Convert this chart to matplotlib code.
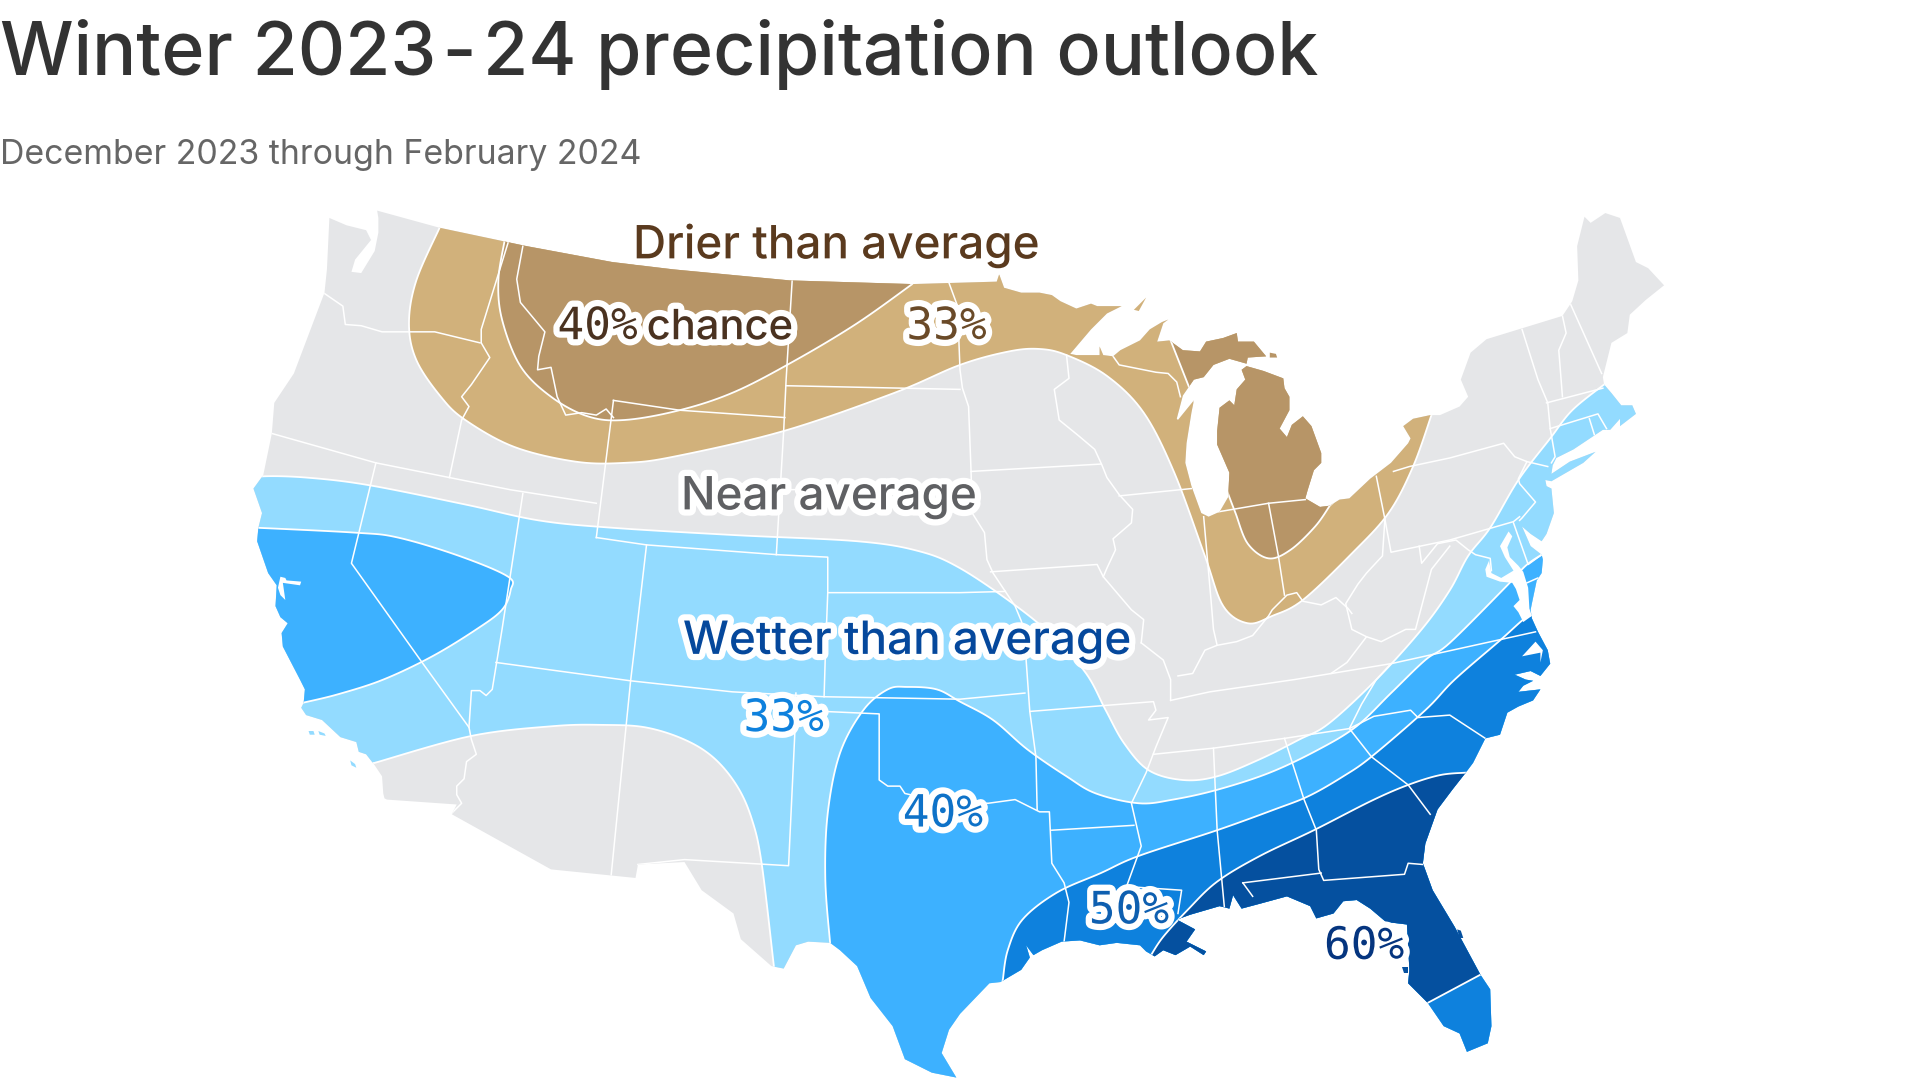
import matplotlib
matplotlib.use('Agg')
import matplotlib.pyplot as plt
import matplotlib.patheffects as pe
from matplotlib.patches import Polygon
import numpy as np

# Map grid: 1568 x 882 units
land = [(269,178),(283,184),(299,188),(303,196),(290,212),(287,222),(295,223),(306,205),(309,190),(309,178),(308,172),
    (359,186),(430,201),(500,214),(550,220),(645,229),(745,232),(814,230),(816,224),(820,235),(834,239),(849,239),(859,241),
    (866,246),(879,252),(891,248),(896,250),(916,250),(904,256),(891,269),(874,289),(879,290),(898,290),(898,283),(901,290),
    (909,291),(915,286),(931,278),(939,269),(949,263),(954,261),(950,264),(945,279),(955,278),(966,286),(980,287),(985,279),(999,276),
    (1010,272),(1011,279),(1024,279),(1034,291),(1019,292),(1018,297),(1004,293),(991,298),(983,308),(975,310),(966,323),(961,342),
    (962,343),(975,327),(973,337),(969,362),(968,378),(973,397),(981,419),(987,422),(996,418),(1003,406),(1004,386),(994,363),(994,352),
    (996,333),(1004,327),(1008,331),(1010,318),(1017,310),(1014,302),(1018,299),(1032,303),(1048,309),(1049,317),(1053,324),(1053,335),
    (1045,350),(1051,357),(1055,347),(1064,340),(1071,348),(1079,370),(1079,378),(1073,384),(1068,400),(1066,407),(1078,414),(1086,413),
    (1094,408),(1102,407),(1119,391),(1136,378),(1150,362),(1152,358),(1146,348),(1154,342),(1168,339),(1176,339),(1192,332),
    (1199,324),(1193,310),(1201,288),(1214,277),(1276,258),(1284,246),(1289,229),(1288,201),(1294,177),(1299,182),(1311,174),
    (1323,178),(1336,214),(1346,219),(1359,233),(1344,245),(1331,257),(1329,272),(1316,280),(1309,308),(1310,314),(1316,321),
    (1324,331),(1333,331),(1336,338),(1323,348),(1323,342),(1315,351),(1309,351),(1303,355),(1285,367),(1271,374),(1268,380),(1267,387),
    (1282,377),(1303,369),(1293,378),(1267,393),(1262,392),(1263,397),(1267,399),(1269,419),(1263,436),(1259,442),(1250,436),(1243,430),
    (1250,446),(1259,453),(1260,457),(1259,468),(1255,474),(1251,493),(1250,498),(1251,505),(1256,516),(1264,531),(1266,542),(1258,552),
    (1250,548),(1237,551),(1246,555),(1252,556),(1244,560),(1240,565),(1258,563),(1252,572),(1240,577),(1231,582),(1225,600),(1213,603),(1203,623),
    (1197,631),(1186,645),(1174,661),(1164,689),(1162,705),(1170,727),(1188,757),(1209,796),(1217,808),(1218,838),(1215,852),(1198,859),
    (1192,844),(1179,838),(1166,819),(1150,803),(1151,792),(1149,755),(1141,754),(1132,753),(1119,742),(1108,735),(1097,736),(1089,746),
    (1075,750),(1070,740),(1051,732),(1029,738),(1014,742),(1007,731),(1004,742),(996,740),(972,747),(961,751),(976,759),(969,769),(985,777),
    (983,780),(972,773),(960,780),(950,776),(943,781),(936,777),(931,772),(912,770),(898,772),(882,768),(867,769),(851,776),(844,780),
    (838,772),(841,782),(834,792),(817,802),(808,803),(784,828),(775,841),(769,860),(781,880),
    (761,876),(739,865),(729,838),(711,815),(700,789),(686,776),(678,770),(660,769),(650,772),(640,791),(630,789),(605,767),
    (599,746),(573,727),(559,704),(521,706),(519,717),(450,710),(369,665),(373,657),(316,653),(314,652),(313,648),(312,634),(306,625),(299,616),
    (293,614),(291,606),(278,602),(263,588),(250,584),(246,578),(248,574),(249,563),(245,555),(231,528),(230,517),(235,509),(229,504),
    (225,495),(226,478),(219,468),(210,442),(211,431),(214,419),(207,399),
    (215,388),(222,354),(224,329),(240,305),(265,239),(267,220)]

# Cut-outs inside the land outline
chesapeake = [(1232,434),(1225,446),(1229,455),(1236,466),(1226,472),(1218,468),(1216,458),(1213,465),(1214,471),(1225,475),(1235,476),
    (1238,481),(1241,490),(1236,495),(1240,500),(1244,508),(1251,503),(1249,497),(1248,480),(1244,467),(1240,462),(1233,455),(1231,447),(1235,438)]
sf_bay = [(229,471),(233,472),(234,474),(246,475),(245,478),(231,476),(233,490),(229,486),(227,480)]
albemarle = [(1254,524),(1243,536),(1258,533),(1258,541),(1260,531)]

# Small islands and slivers off the main outline
channel_islands = [[(252,597),(256,597),(257,600),(253,600)], [(260,597),(265,599),(266,601),(261,600)], [(286,621),(290,624),(291,627),(287,625)]]
isle_royale = [(1037,288),(1042,289),(1043,292),(1037,292)]
mn_tip = [(926,253),(936,243),(930,254)]
fl_bits = [[(1190,759),(1193,760),(1195,766),(1192,766)], [(1145,790),(1150,790),(1150,795),(1147,795)]]

# Forecast zones: smooth edge, then outer corners off the land
drier_33_edge = [(359,186),(340,229),(334,264),(340,294),(360,324),(380,343),(420,365),(470,377),(510,378),(550,373),(640,352),
    (730,321),(784,298),(824,287),(849,285),(871,290),(904,307),(934,337),(959,386),(984,454),(999,495),(1019,509),(1039,503),
    (1064,490),(1104,452),(1134,419),(1154,381),(1169,339)]
drier_33_outer = [(1175,200),(359,150)]
drier_40_west_edge = [(412,197),(407,229),(410,261),(425,299),(450,324),(480,340),(510,343),(555,335),(600,320),(650,294),(700,264),(745,232)]
drier_40_west_outer = [(745,170),(412,170)]
drier_40_east_edge = [(1004,406),(1009,419),(1019,444),(1036,456),(1054,449),(1074,430),(1086,413)]
drier_40_east_outer = [(1100,400),(1100,250),(954,250),(956,278),(971,316)]
wetter_33_edge = [(207,392),(215,389),(250,390),(300,396),(380,412),(440,425),(500,431),(600,437),(700,442),(750,450),(784,464),(830,495),
    (860,520),(887,550),(903,580),(918,607),(938,629),(966,637),(994,634),(1029,620),(1061,604),(1085,591),(1124,555),(1161,514),
    (1184,482),(1199,454),(1217,431),(1240,392),(1266,358),(1284,335),(1310,314)]
wetter_33_outer = [(1345,314),(1345,900),(632,900)]
wetter_33_south = [(632,789),(622,705),(614,669),(602,642),(583,619),(559,604),(527,594),(492,592),(452,593),(385,601),(306,623)]
wetter_33_west = [(200,640),(200,392)]
wetter_40_west_edge = [(210,431),(290,435),(325,439),(375,454),(415,471),(417,482),(410,498),(389,514),(353,536),(313,555),(276,567),(247,574)]
wetter_40_west_outer = [(200,590),(200,431)]
wetter_40_main_edge = [(678,771),(674,718),(676,664),(686,615),(705,580),(725,563),(741,561),(765,563),(784,573),(811,588),(839,612),(871,634),
    (895,648),(930,656),(958,653),(994,645),(1037,631),(1077,612),(1108,593),(1136,566),(1164,539),(1184,525),(1230,479),(1246,462),(1259,453)]
wetter_40_main_outer = [(1345,453),(1345,900),(678,900)]
wetter_50_edge = [(819,800),(823,776),(835,751),(863,729),(899,713),(930,699),(994,678),(1041,661),(1069,650),(1097,634),(1120,618),
    (1164,580),(1188,555),(1225,523),(1244,506),(1252,502)]
wetter_50_outer = [(1345,500),(1345,900),(800,900)]
wetter_60_edge = [(940,780),(950,765),(970,743),(994,720),(1029,699),(1073,678),(1120,654),(1150,641),(1176,633),(1197,631)]
wetter_60_outer = [(1300,631),(1300,745),(1209,796),(1166,819),(1100,850),(936,850)]

# State borders
state_lines = [
    [(264,239),(280,250),(282,265),(295,266),(312,271),(355,271),(392,280)],
    [(415,198),(393,269),(393,280),(400,292),(385,314),(377,324),(383,332),(377,343),(367,390)],
    [(222,354),(307,378),(367,390),(417,400),(487,411)],
    [(307,378),(287,460),(344,540),(383,594),(385,604),(389,616),(381,622),(379,636),(373,642),(373,649),(377,656),(369,664)],
    [(383,594),(385,564),(392,564),(397,568),(402,563),(410,514),(427,403)],
    [(405,541),(515,556),(598,565),(673,569),(784,571),(837,566)],
    [(528,445),(520,514),(515,556),(499,716)],
    [(487,439),(528,445),(635,453),(676,455),(676,484),(674,536),(673,569)],
    [(501,327),(487,439)],
    [(501,327),(555,335),(641,341)],
    [(647,228),(642,310),(640,352),(634,453)],
    [(642,315),(784,318)],
    [(637,400),(793,398)],
    [(676,484),(784,484),(821,483)],
    [(650,566),(649,601),(644,707),(559,702),(521,706)],
    [(650,580),(718,583),(718,637),(725,642),(735,642),(739,648),(770,655),(807,656),(829,653),(849,663),(857,663),(859,705),(869,721),(873,737),(869,769)],
    [(821,483),(829,495),(834,507),(838,520),(838,539),(841,581),(846,618),(847,661)],
    [(859,678),(926,674)],
    [(841,581),(942,573),(944,580),(938,588),(954,586),(944,610),(936,631),(924,656),(932,691),(920,724),(965,727),(962,746)],
    [(991,611),(994,678),(1000,742)],
    [(942,616),(991,611),(1049,603),(1102,595),(1122,585),(1152,580),(1158,586),(1184,584),(1213,603)],
    [(1049,603),(1065,653),(1075,678),(1077,710),(1081,719),(1147,714),(1150,705),(1162,706)],
    [(1015,721),(1079,713)],
    [(1015,721),(1023,732)],
    [(1102,595),(1120,618),(1150,641),(1168,665)],
    [(956,572),(988,565),(1057,555),(1136,542),(1254,516)],
    [(1102,595),(1112,575),(1124,555),(1136,542)],
    [(932,525),(950,539),(956,555),(956,572)],
    [(962,552),(974,550),(984,531),(994,527),(1010,524),(1023,519),(1036,503),(1039,498),(1051,486),(1059,484),(1064,491),(1079,494),(1091,488),(1101,497),(1104,501)],
    [(1087,550),(1100,541),(1116,520),(1128,524),(1148,514),(1156,514),(1169,465),(1184,446)],
    [(1131,424),(1129,454),(1116,468),(1109,477),(1099,493),(1104,514),(1116,520)],
    [(1036,411),(1044,454),(1049,486)],
    [(983,422),(989,490),(991,514),(994,527)],
    [(989,419),(1036,411),(1066,408)],
    [(1124,389),(1131,424),(1136,451),(1184,441),(1236,426),(1241,422)],
    [(1236,427),(1248,461),(1259,453)],
    [(1247,476),(1256,472)],
    [(1159,446),(1161,460),(1174,444),(1189,441),(1199,449),(1205,453),(1217,456),(1218,466)],
    [(1138,385),(1151,381),(1184,374),(1228,362),(1237,373),(1247,377),(1264,381)],
    [(1247,377),(1240,391),(1241,395),(1254,410),(1243,423),(1241,425)],
    [(1243,269),(1249,288),(1256,310),(1264,329),(1266,350),(1270,373),(1267,378)],
    [(1276,258),(1279,272),(1273,286),(1276,324)],
    [(1282,247),(1308,305)],
    [(1263,329),(1309,317)],
    [(1266,350),(1305,338),(1312,350)],
    [(1298,342),(1303,358)],
    [(775,231),(782,250),(784,302),(786,317),(791,332),(793,384),(794,419),(804,435),(806,457),(811,468),(821,483)],
    [(793,385),(899,379)],
    [(871,290),(873,309),(861,318),(865,343),(881,356),(894,367),(900,380),(904,390),(914,404),(925,416),(924,427),(909,440),(911,449),(904,464),(901,471),(924,498),(934,506),(932,525)],
    [(914,405),(973,399)],
    [(809,467),(896,461),(901,471)],
    [(909,291),(914,298),(944,304),(954,305),(961,312),(964,324)],
    [(427,201),(422,228),(425,247),(445,271),(440,291),(439,302),(450,300),(455,324),(462,339),(475,337),(487,339),(495,334),(501,341)],
]

title = 'Winter 2023\u200a-\u200a24 precipitation outlook'
subtitle = 'December 2023 through February 2024'

gray = '#e5e6e8'
tan = '#d1b17b'
dark_tan = '#b79567'
light_blue = '#93dbff'
mid_blue = '#3db1ff'
blue = '#0e81dd'
dark_blue = '#05509f'


# Round the traced zone edges (Catmull-Rom through the points)
def smooth(pts, n=10):
    p = np.array([pts[0]] + list(pts) + [pts[-1]], dtype=float)
    out = []
    for i in range(1, len(p) - 2):
        for t in np.linspace(0, 1, n, endpoint=False):
            out.append(0.5 * (2 * p[i] + (p[i + 1] - p[i - 1]) * t
                              + (2 * p[i - 1] - 5 * p[i] + 4 * p[i + 1] - p[i + 2]) * t ** 2
                              + (3 * p[i] - p[i - 1] - 3 * p[i + 1] + p[i + 2]) * t ** 3))
    out.append(p[-2])
    return [tuple(q) for q in out]


fig = plt.figure(figsize=(19.2, 10.8), dpi=100)
ax = fig.add_axes([0, 0, 1, 1])
ax.set_xlim(0, 1568)
ax.set_ylim(882, 0)
ax.axis('off')

land_patch = Polygon(land, closed=True, fc=gray, ec='none', zorder=1)
ax.add_patch(land_patch)

# Zones are clipped to the land shape, white outline on each
zones = [(smooth(drier_33_edge) + drier_33_outer, tan),
         (smooth(drier_40_west_edge) + drier_40_west_outer, dark_tan),
         (smooth(drier_40_east_edge) + drier_40_east_outer, dark_tan),
         (smooth(wetter_33_edge) + wetter_33_outer + smooth(wetter_33_south) + wetter_33_west, light_blue),
         (smooth(wetter_40_west_edge) + wetter_40_west_outer, mid_blue),
         (smooth(wetter_40_main_edge) + wetter_40_main_outer, mid_blue),
         (smooth(wetter_50_edge) + wetter_50_outer, blue),
         (smooth(wetter_60_edge) + wetter_60_outer, dark_blue)]
for shape, color in zones:
    p = Polygon(shape, closed=True, fc=color, ec='white', lw=1.3, zorder=2)
    ax.add_patch(p)
    p.set_clip_path(land_patch)

for line in state_lines:
    xs = [pt[0] for pt in line]
    ys = [pt[1] for pt in line]
    l, = ax.plot(xs, ys, color='white', lw=1.1, zorder=3, solid_joinstyle='round')
    l.set_clip_path(land_patch)

for water in [chesapeake, sf_bay, albemarle]:
    ax.add_patch(Polygon(water, closed=True, fc='white', ec='none', zorder=4))

for bit in channel_islands:
    ax.add_patch(Polygon(bit, closed=True, fc=light_blue, ec='none', zorder=4))
ax.add_patch(Polygon(isle_royale, closed=True, fc=dark_tan, ec='none', zorder=4))
ax.add_patch(Polygon(mn_tip, closed=True, fc=tan, ec='none', zorder=4))
for bit in fl_bits:
    ax.add_patch(Polygon(bit, closed=True, fc=dark_blue, ec='none', zorder=4))

sans = 'Inter'
mono = 'DejaVu Sans Mono'
ax.text(0, 61, title, fontsize=52.9, color='#333333', family=sans, weight='medium', va='baseline', ha='left')
ax.text(0, 134, subtitle, fontsize=24.4, color='#666666', family=sans, va='baseline', ha='left')


def label(x, y, s, color, size, family=sans, weight='medium'):
    ax.text(x, y, s, color=color, fontsize=size, family=family, weight=weight, ha='center', va='baseline', zorder=6,
            path_effects=[pe.withStroke(linewidth=9, foreground='white')])


label(683, 211, 'Drier than average', '#5a3a1e', 33)
label(677, 416, 'Near average', '#5f6063', 33)
label(741, 534, 'Wetter than average', '#05489c', 33)
label(488, 277, '40%', '#4a3220', 32, mono, 'normal')
label(588, 277, 'chance', '#4a3220', 30)
label(773, 277, '33%', '#6a4a28', 32, mono, 'normal')
label(640, 597, '33%', '#0e81dd', 32, mono, 'normal')
label(770, 675, '40%', '#0e72c8', 32, mono, 'normal')
label(922, 754, '50%', '#0e5fb0', 32, mono, 'normal')
label(1114, 783, '60%', '#05357f', 32, mono, 'normal')

plt.savefig('out.png', dpi=100)
